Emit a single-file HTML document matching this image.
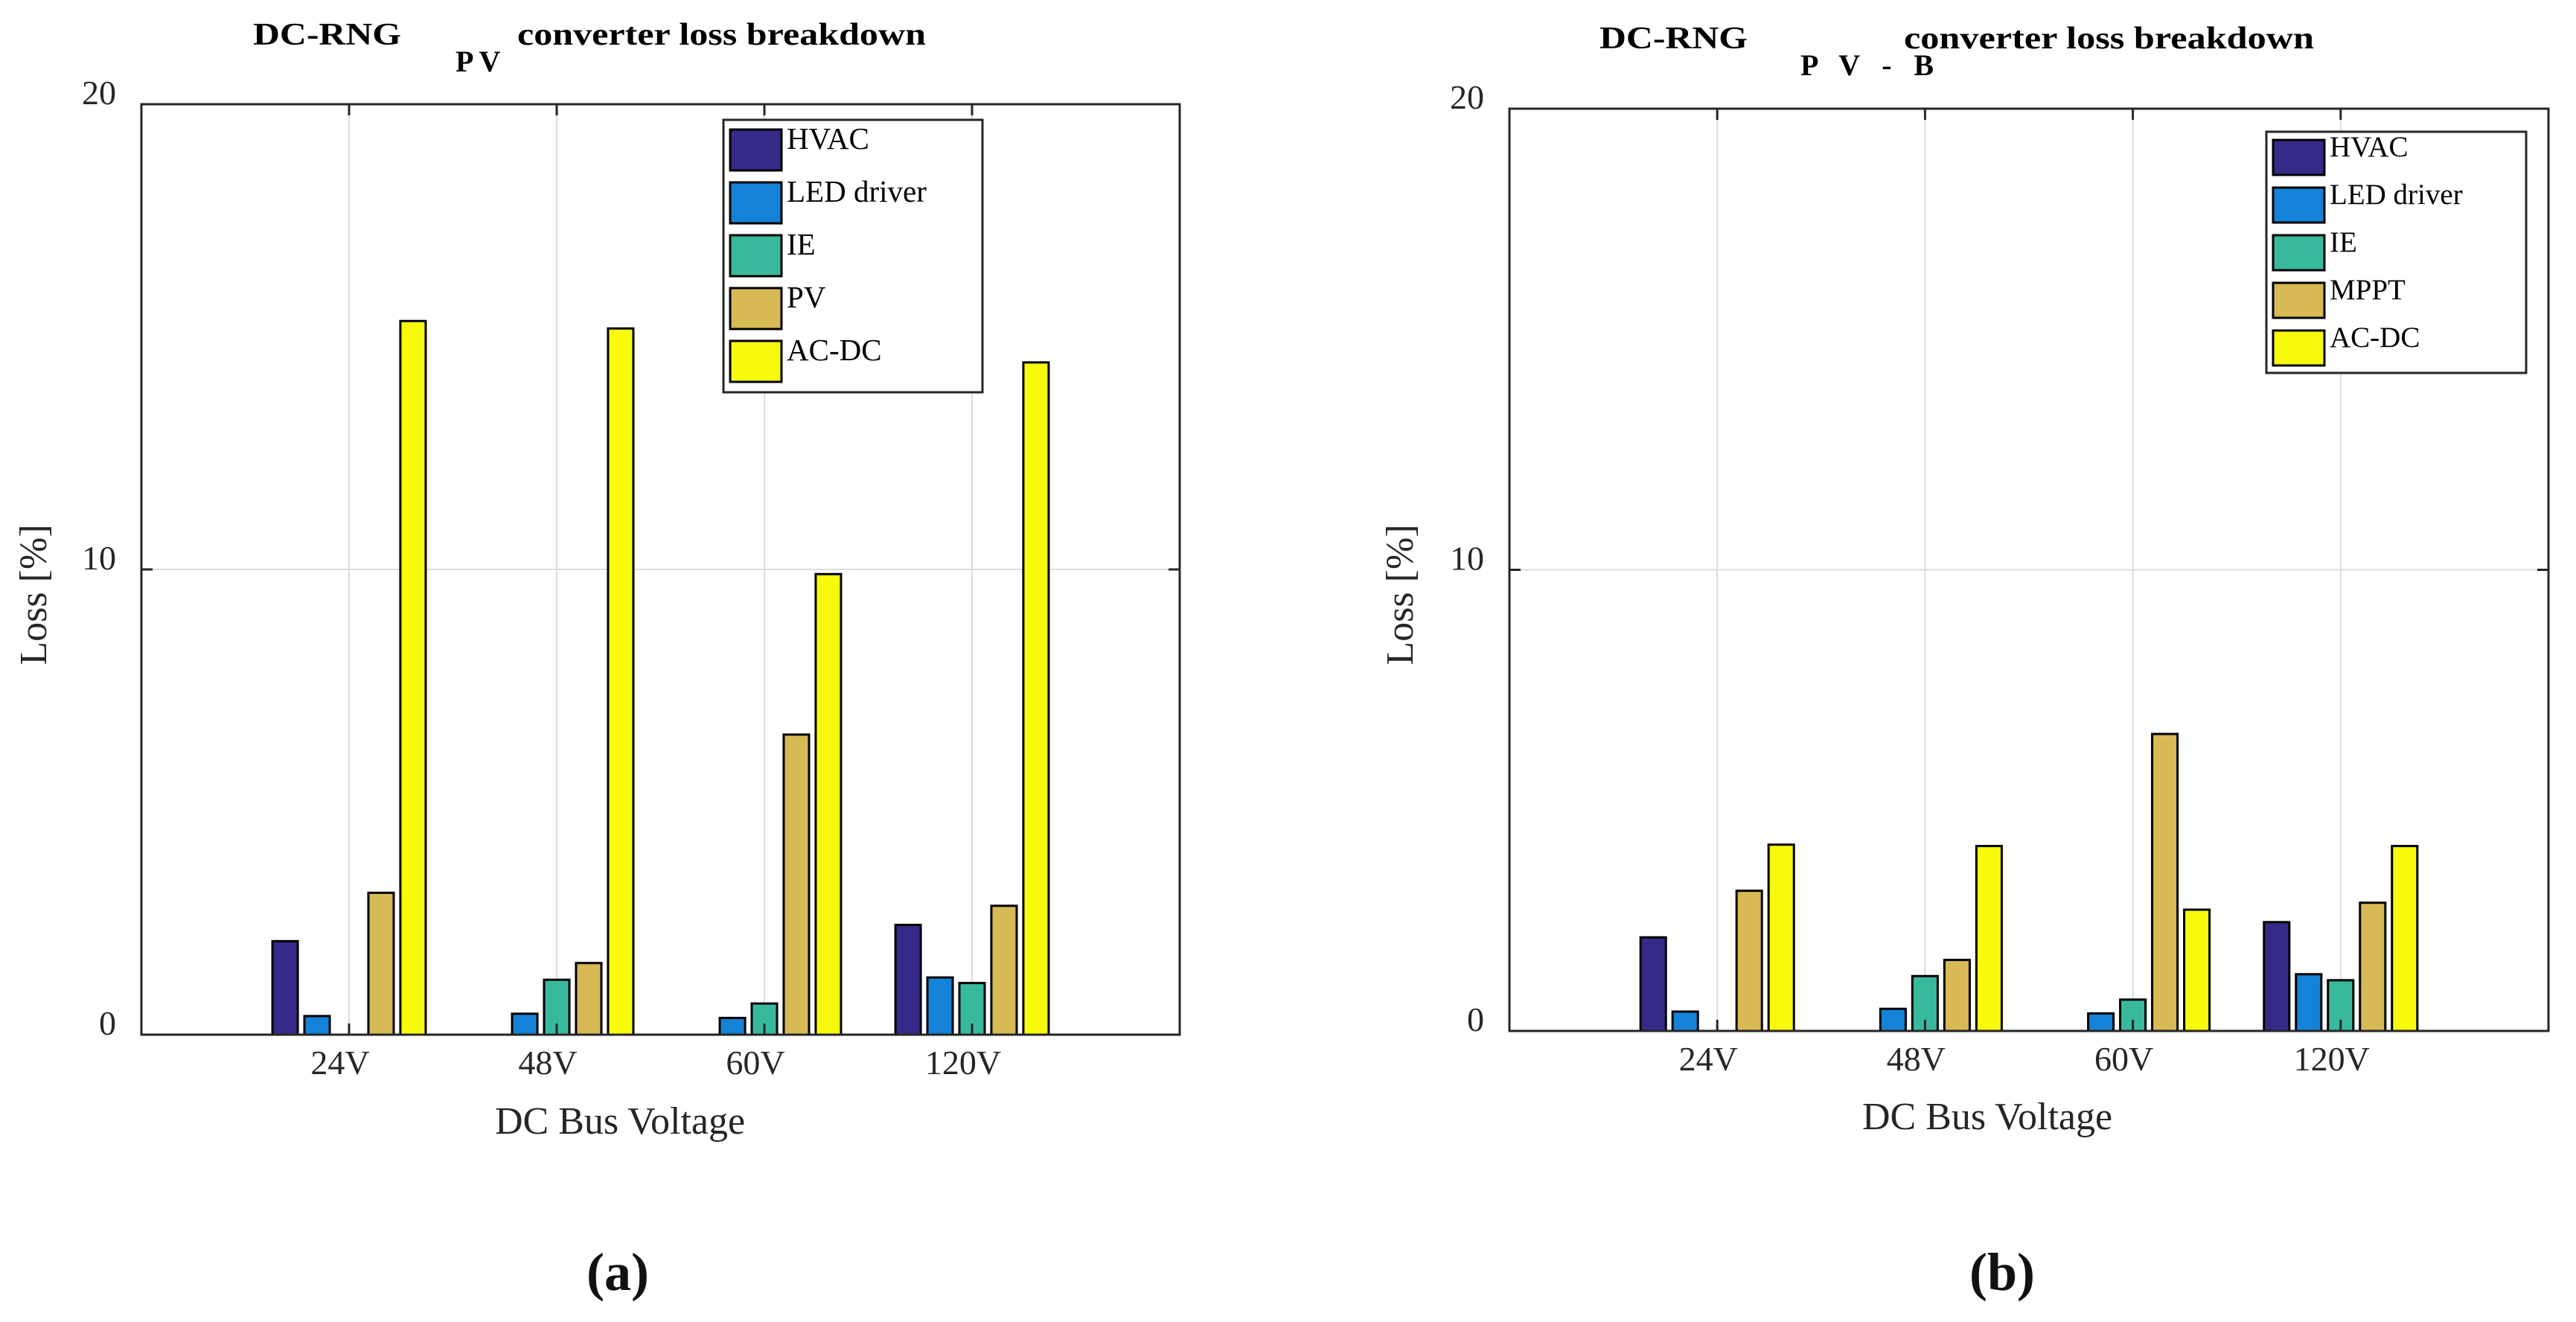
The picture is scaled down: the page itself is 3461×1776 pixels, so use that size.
<!DOCTYPE html>
<html><head><meta charset="utf-8"><style>
html,body{margin:0;padding:0;background:#fff;}
svg{display:block;font-family:"Liberation Serif",serif;}
</style></head><body>
<svg id="fig" width="3461" height="1776" viewBox="0 0 3461 1776" xmlns="http://www.w3.org/2000/svg">
<rect width="3461" height="1776" fill="#fff"/>
<g id="chartA"></g>
<g id="chartB"></g>
<text x="830" y="1733" font-size="72" font-weight="bold" text-anchor="middle" fill="#111">(a)</text>
<text x="2690" y="1733" font-size="72" font-weight="bold" text-anchor="middle" fill="#111">(b)</text>
</svg>
<script>
const categories = ["24V","48V","60V","120V"];
const yTicks = [0,10,20];
const seriesNamesA = ["HVAC","LED driver","IE","PV","AC-DC"];
const seriesNamesB = ["HVAC","LED driver","IE","MPPT","AC-DC"];
const hvacA = [2.01,0,0,2.36];
const ledA = [0.40,0.45,0.36,1.23];
const ieA = [0,1.18,0.67,1.11];
const pvA = [3.05,1.54,6.45,2.77];
const acdcA = [15.34,15.18,9.90,14.45];
const hvacB = [2.03,0,0,2.36];
const ledB = [0.42,0.48,0.38,1.23];
const ieB = [0,1.19,0.68,1.10];
const mpptB = [3.04,1.54,6.44,2.78];
const acdcB = [4.04,4.01,2.63,4.01];
const colors = ["#352a87","#1482d6","#38b99e","#d7b955","#f8fa0d"];
const NS="http://www.w3.org/2000/svg";
function mk(tag,attrs,parent){const e=document.createElementNS(NS,tag);for(const k in attrs)e.setAttribute(k,attrs[k]);parent.appendChild(e);return e;}

function drawChart(g,cfg,series,names){
  const L=cfg.l,R=cfg.r,T=cfg.t,B=cfg.b;
  const xs=v=>L+(R-L)*v/5;
  const ys=v=>B-(B-T)*v/20;
  categories.forEach((c,i)=>{
    const gl=mk('line',{x1:xs(i+1),x2:xs(i+1),y1:T,y2:B,stroke:'#dcdcdc','stroke-width':2},g);
    
    
  });
  yTicks.forEach(v=>{
    if(v>0&&v<20){const gl=mk('line',{x1:L,x2:R,y1:ys(v),y2:ys(v),stroke:'#dcdcdc','stroke-width':2},g);
    
    }
  });
  const off=0.154, bw=0.122;
  series.forEach((arr,s)=>{
    arr.forEach((v,i)=>{
      if(v<=0) return;
      const cx=(i+1)+(s-2)*off;
      const x0=xs(cx-bw/2), x1=xs(cx+bw/2);
      const r=mk('rect',{x:x0,y:ys(v),width:x1-x0,height:ys(0)-ys(v),fill:colors[s],stroke:'#000','stroke-width':3},g);
      
      
    });
  });
  categories.forEach((c,i)=>{
    mk('line',{x1:xs(i+1),x2:xs(i+1),y1:B,y2:B-15,stroke:'#262626','stroke-width':3},g);
    mk('line',{x1:xs(i+1),x2:xs(i+1),y1:T,y2:T+15,stroke:'#262626','stroke-width':3},g);
    const t=mk('text',{x:xs(i+1)-12,y:B+53,'font-size':46,'text-anchor':'middle',fill:'#262626'},g);
    t.textContent=c;
    
    
  });
  yTicks.forEach(v=>{
    mk('line',{x1:L,x2:L+15,y1:ys(v),y2:ys(v),stroke:'#262626','stroke-width':3},g);
    mk('line',{x1:R,x2:R-15,y1:ys(v),y2:ys(v),stroke:'#262626','stroke-width':3},g);
    const t=mk('text',{x:L-34,y:ys(v),'font-size':46,'text-anchor':'end',fill:'#262626'},g);
    t.textContent=v;
    
    
  });
  const ax=mk('rect',{x:L,y:T,width:R-L,height:B-T,fill:'none',stroke:'#262626','stroke-width':3},g);
  
  
  const xl=mk('text',{x:cfg.xlx,y:cfg.xly,'font-size':52,'text-anchor':'middle',fill:'#262626'},g);
  xl.textContent='DC Bus Voltage';
  
  
  const yl=mk('text',{x:0,y:0,'font-size':52,'text-anchor':'middle',fill:'#262626',transform:'translate('+cfg.ylx+',799) rotate(-90)'},g);
  yl.textContent='Loss [%]';
  
  
  const t1=mk('text',{x:cfg.tx1,y:cfg.ty,'font-size':42,'font-weight':'bold',fill:'#000',textLength:cfg.tw1,lengthAdjust:'spacingAndGlyphs'},g);
  t1.textContent='DC-RNG';
  
  
  const a2={x:cfg.tx2,y:cfg.ty+36,'font-size':40,'font-weight':'bold',fill:'#000'};
  if(cfg.tw2){a2.textLength=cfg.tw2;a2.lengthAdjust='spacing';}
  const t2=mk('text',a2,g);
  t2.textContent=cfg.sub;
  
  
  const t3=mk('text',{x:cfg.tx3,y:cfg.ty,'font-size':42,'font-weight':'bold',fill:'#000',textLength:cfg.tw3,lengthAdjust:'spacingAndGlyphs'},g);
  t3.textContent='converter loss breakdown';
  
  
  const lg=mk('g',{},g);
  
  
  mk('rect',{x:cfg.lgx,y:cfg.lgy,width:cfg.lgw,height:cfg.lgh,fill:'#fff',stroke:'#262626','stroke-width':3},lg);
  names.forEach((n,s)=>{
    const y0=cfg.lgy+cfg.pad+s*cfg.pitch;
    const e=mk('g',{},lg);
    
    
    mk('rect',{x:cfg.lgx+9,y:y0,width:69,height:cfg.sh,fill:colors[s],stroke:'#000','stroke-width':3},e);
    const t=mk('text',{x:cfg.lgx+85,y:y0+cfg.tb,'font-size':cfg.fs,fill:'#000'},e);
    t.textContent=n;
  });
}
drawChart(document.getElementById('chartA'),{l:190,r:1585,t:140,b:1390,xlx:833,xly:1523,ylx:62,
  tx1:340,tw1:199,tx2:612,tw2:0,tx3:695,tw3:549,ty:60,sub:'P V',
  lgx:972,lgy:161,lgw:348,lgh:366,pad:13,pitch:71,sh:55,tb:26,fs:41},
  [hvacA,ledA,ieA,pvA,acdcA],seriesNamesA);
drawChart(document.getElementById('chartB'),{l:2028,r:3424,t:146,b:1385,xlx:2670,xly:1517,ylx:1898,
  tx1:2149,tw1:199,tx2:2419,tw2:179,tx3:2558,tw3:551,ty:65,sub:'P V - B',
  lgx:3045,lgy:177,lgw:349,lgh:324,pad:11,pitch:64,sh:47,tb:22,fs:39},
  [hvacB,ledB,ieB,mpptB,acdcB],seriesNamesB);
</script>
</body></html>
